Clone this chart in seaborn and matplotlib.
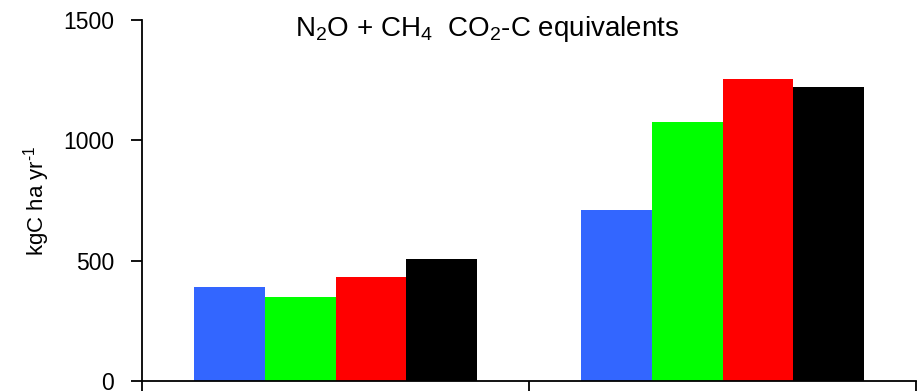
import matplotlib
matplotlib.use("Agg")
import matplotlib.pyplot as plt
import seaborn as sns
import pandas as pd

categories = ["Site A", "Site B"]
series = ["S1", "S2", "S3", "S4"]
values_s1 = [390, 710]
values_s2 = [348, 1076]
values_s3 = [432, 1255]
values_s4 = [507, 1222]
colors = ["#3366FF", "#00FF00", "#FF0000", "#000000"]
yticks = [0, 500, 1000, 1500]

rows = []
for s, vals in zip(series, [values_s1, values_s2, values_s3, values_s4]):
    for c, v in zip(categories, vals):
        rows.append({"category": c, "series": s, "value": v})
df = pd.DataFrame(rows)

sns.set_style("white")
plt.rcParams["font.family"] = ["Liberation Sans", "DejaVu Sans"]
plt.rcParams["mathtext.fontset"] = "custom"
plt.rcParams["mathtext.rm"] = "Liberation Sans"
plt.rcParams["mathtext.default"] = "regular"

fig = plt.figure(figsize=(9.19, 3.91), dpi=100)
ax = fig.add_axes([142/919, 1-381/391, (916-142)/919, (381-20)/391])
sns.barplot(data=df, x="category", y="value", hue="series", palette=colors,
            width=0.73, gap=0, saturation=1, ax=ax, legend=False, linewidth=0)

ax.set_xlim(-0.5, 1.5)
ax.set_ylim(0, 1500)
ax.set_yticks(yticks)
ax.set_yticklabels([str(t) for t in yticks], fontsize=16.5, color="black",
                   va="center_baseline")
ax.set_xticks([-0.5, 0.5, 1.5])
ax.set_xticklabels([])
ax.set_xlabel("")
ax.set_ylabel(r"kgC ha yr$^{\text{-1}}$", fontsize=16, labelpad=8, color="black")
for side in ["top", "right"]:
    ax.spines[side].set_visible(False)
for side in ["left", "bottom"]:
    ax.spines[side].set_color("black")
    ax.spines[side].set_linewidth(1.3)
ax.tick_params(axis="y", direction="out", length=8, width=1.3, color="black", left=True, pad=12)
ax.tick_params(axis="x", direction="out", length=10, width=1.3, color="black", bottom=True)

fig.text(487.5/919, 1-36/391, r"N$_2$O + CH$_4$  CO$_2$-C equivalents",
         ha="center", va="baseline", fontsize=20, color="black")

fig.savefig("out.png", dpi=100)
